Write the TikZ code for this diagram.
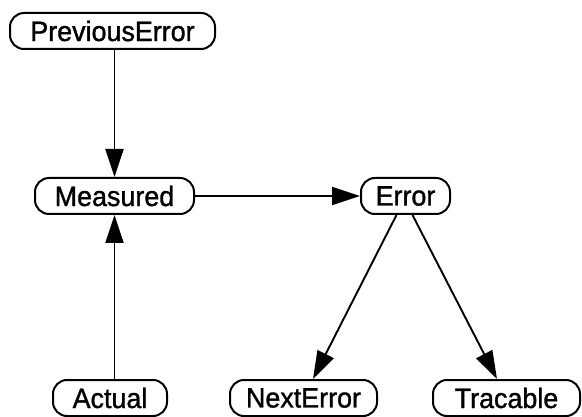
\documentclass[tikz,border=0pt]{standalone}
\usepackage{fontspec}
\setmainfont{Liberation Sans}[FakeBold=1.2, FakeStretch=0.96]
\usetikzlibrary{arrows.meta}
\begin{document}
\begin{tikzpicture}[x=1pt,y=-1pt,
  var/.style={draw, line width=2pt, rounded corners=14pt, minimum height=36pt,
    inner xsep=0pt, inner ysep=0pt, font=\fontsize{28}{30}\selectfont},
  link/.style={line width=1.9pt, -{Triangle[length=28pt,width=18pt]}}]
\useasboundingbox (0,0) rectangle (582,417);

% variables
\node[var, minimum width=205pt] (prev) at (112.5,31)  {PreviousError};
\node[var, minimum width=159pt] (meas) at (114.5,196) {Measured};
\node[var, minimum width=89pt]  (err)  at (405.5,196) {Error};
\node[var, minimum width=114pt] (act)  at (110,398)   {Actual};
\node[var, minimum width=147pt] (next) at (303.5,398) {NextError};
\node[var, minimum width=147pt] (trac) at (506.5,398) {Tracable};

% dependencies
\draw[link] (meas.north |- prev.south) -- (meas.north);
\draw[link] (meas.south |- act.north) -- (meas.south);
\draw[link] (meas.east) -- (err.west);
\draw[link] ([xshift=-9pt]err.south) -- ([xshift=9.5pt]next.north);
\draw[link] ([xshift=7pt]err.south) -- ([xshift=-9.5pt]trac.north);
\end{tikzpicture}
\end{document}
